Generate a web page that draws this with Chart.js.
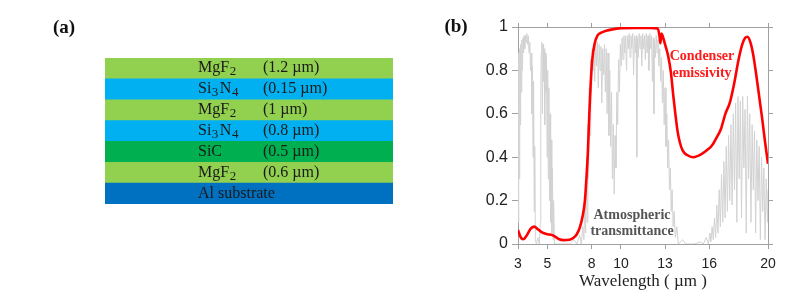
<!DOCTYPE html>
<html><head><meta charset="utf-8">
<script src="https://cdn.jsdelivr.net/npm/chart.js@4.4.1/dist/chart.umd.min.js"></script>
<style>
html,body{margin:0;padding:0;background:#fff;}
#wrap{position:relative;width:800px;height:297px;overflow:hidden;background:#fff;}
#ca{position:absolute;left:0;top:0;width:440px;height:297px;}
#cb{position:absolute;left:440px;top:0;width:360px;height:297px;}
.lbl{position:absolute;font-family:"Liberation Serif","Times New Roman",serif;font-weight:bold;white-space:nowrap;text-align:center;}
</style></head><body>
<div id="wrap">
<canvas id="ca" width="440" height="297"></canvas>
<canvas id="cb" width="360" height="297"></canvas>
<div class="lbl" style="left:40px;top:16px;width:48px;font-size:19px;color:#111;">(a)</div>
<div class="lbl" style="left:432px;top:15px;width:48px;font-size:19px;color:#111;">(b)</div>
<div class="lbl" style="left:642px;top:47px;width:120px;font-size:14px;line-height:17px;color:#ff1a1a;">Condenser<br>emissivity</div>
<div class="lbl" style="left:572px;top:207px;width:120px;font-size:14px;line-height:16px;color:#555;">Atmospheric<br>transmittance</div>
</div>
<script>
// ---------- Panel (a): layer stack ----------
const layerMaterials = ['MgF2','Si3N4','MgF2','Si3N4','SiC','MgF2','Al substrate'];
const layerThickness = ['(1.2 µm)','(0.15 µm)','(1 µm)','(0.8 µm)','(0.5 µm)','(0.6 µm)',''];
const layerColors = ['#92D050','#00B0F0','#92D050','#00B0F0','#00B050','#92D050','#0070C0'];

// ---------- Panel (b): spectra ----------
const xTickValues = [3,5,8,10,13,16,20];
const emisWavelength = [3.0,3.15,3.35,3.6,3.85,4.1,4.35,4.6,5.0,5.3,5.5,5.8,6.1,6.5,6.8,7.0,7.2,7.4,7.55,7.65,7.75,7.85,7.95,8.05,8.2,8.4,8.7,9.0,9.5,10.0,11.0,12.0,12.5,12.62,12.68,12.76,12.85,13.0,13.2,13.4,13.55,13.7,13.85,14.0,14.2,14.5,14.9,15.2,15.5,15.9,16.2,16.5,16.8,17.1,17.4,17.7,18.0,18.25,18.45,18.6,18.8,19.0,19.2,19.4,19.6,19.8,20.0];
const emisValue = [0.065,0.035,0.022,0.04,0.07,0.08,0.068,0.055,0.045,0.042,0.035,0.022,0.018,0.02,0.03,0.045,0.075,0.13,0.2,0.3,0.42,0.6,0.75,0.85,0.92,0.96,0.975,0.983,0.99,0.995,0.996,0.996,0.993,0.96,0.925,0.97,0.955,0.92,0.87,0.79,0.69,0.6,0.52,0.47,0.43,0.41,0.40,0.405,0.415,0.435,0.455,0.49,0.53,0.6,0.65,0.74,0.85,0.92,0.95,0.955,0.93,0.87,0.78,0.68,0.58,0.47,0.37];

const atmWavelength = [3.00,3.03,3.06,3.09,3.12,3.15,3.18,3.22,3.26,3.30,3.34,3.38,3.42,3.46,3.50,3.55,3.60,3.65,3.70,3.75,3.80,3.85,3.90,3.94,3.98,4.02,4.06,4.10,4.14,4.18,4.25,4.35,4.45,4.52,4.55,4.58,4.62,4.66,4.70,4.74,4.78,4.82,4.86,4.90,4.94,4.98,5.02,5.06,5.10,5.14,5.18,5.22,5.26,5.30,5.34,5.38,5.42,5.48,5.60,6.50,6.80,7.00,7.20,7.30,7.40,7.48,7.55,7.60,7.66,7.70,7.75,7.80,7.85,7.90,7.95,8.00,8.05,8.10,8.16,8.22,8.28,8.34,8.40,8.46,8.52,8.58,8.64,8.70,8.76,8.82,8.88,8.94,9.00,9.06,9.12,9.18,9.24,9.30,9.36,9.42,9.48,9.54,9.60,9.66,9.72,9.78,9.84,9.90,9.96,10.02,10.08,10.14,10.20,10.26,10.32,10.38,10.44,10.50,10.56,10.62,10.68,10.74,10.80,10.86,10.92,10.98,11.04,11.08,11.12,11.18,11.24,11.30,11.36,11.42,11.48,11.54,11.60,11.66,11.72,11.78,11.84,11.90,11.96,12.02,12.08,12.14,12.20,12.24,12.28,12.34,12.40,12.46,12.52,12.58,12.64,12.70,12.76,12.82,12.88,12.94,13.00,13.06,13.12,13.18,13.24,13.30,13.36,13.42,13.48,13.55,13.62,13.70,13.80,13.90,14.20,14.40,15.00,15.40,15.60,15.80,15.95,16.05,16.12,16.20,16.28,16.36,16.44,16.52,16.60,16.68,16.76,16.84,16.92,17.00,17.08,17.16,17.24,17.32,17.40,17.48,17.56,17.64,17.72,17.80,17.88,17.96,18.04,18.12,18.20,18.28,18.36,18.44,18.52,18.60,18.68,18.76,18.84,18.92,19.00,19.08,19.16,19.24,19.32,19.40,19.48,19.56,19.64,19.72,19.80,19.88,19.96,20.00];
const atmValue = [0.84,0.10,0.88,0.30,0.90,0.55,0.92,0.70,0.94,0.80,0.95,0.88,0.96,0.90,0.96,0.93,0.97,0.92,0.96,0.88,0.93,0.80,0.88,0.60,0.82,0.40,0.75,0.15,0.45,0.02,0.00,0.03,0.00,0.10,0.70,0.88,0.93,0.60,0.92,0.75,0.90,0.55,0.88,0.70,0.86,0.40,0.80,0.30,0.72,0.20,0.60,0.10,0.48,0.05,0.35,0.02,0.20,0.00,0.00,0.00,0.02,0.00,0.04,0.00,0.08,0.02,0.20,0.05,0.40,0.10,0.55,0.30,0.72,0.50,0.85,0.70,0.90,0.80,0.92,0.75,0.93,0.82,0.93,0.72,0.92,0.80,0.91,0.65,0.90,0.78,0.92,0.70,0.90,0.60,0.88,0.50,0.80,0.45,0.70,0.30,0.55,0.23,0.50,0.35,0.70,0.55,0.85,0.70,0.92,0.82,0.95,0.85,0.96,0.88,0.96,0.80,0.96,0.90,0.97,0.86,0.96,0.90,0.97,0.78,0.96,0.88,0.96,0.40,0.95,0.86,0.97,0.90,0.96,0.82,0.97,0.90,0.96,0.85,0.97,0.88,0.96,0.80,0.97,0.90,0.96,0.75,0.95,0.60,0.94,0.86,0.96,0.88,0.94,0.82,0.90,0.75,0.86,0.65,0.80,0.55,0.72,0.45,0.60,0.35,0.48,0.25,0.35,0.15,0.25,0.08,0.15,0.03,0.08,0.00,0.02,0.00,0.00,0.01,0.00,0.03,0.00,0.05,0.01,0.08,0.02,0.12,0.03,0.18,0.05,0.25,0.08,0.32,0.10,0.38,0.12,0.45,0.15,0.50,0.20,0.55,0.18,0.60,0.25,0.65,0.10,0.68,0.30,0.66,0.12,0.68,0.35,0.62,0.05,0.68,0.30,0.60,0.10,0.55,0.25,0.52,0.05,0.48,0.20,0.45,0.02,0.40,0.15,0.35,0.02,0.30,0.10,0.25];

// ---------- Panel (a) chart ----------
function drawChem(ctx, text, x, y){
  // digits following a letter are drawn as subscripts
  let cx = x;
  for (let i=0;i<text.length;i++){
    const ch = text[i];
    const isSub = /[0-9]/.test(ch) && i>0 && /[A-Za-z]/.test(text[i-1]);
    if (isSub){
      ctx.font = '13px "Liberation Serif", "Times New Roman", serif';
      ctx.fillText(ch, cx+0.5, y+3);
      cx += ctx.measureText(ch).width + 2;
    } else {
      ctx.font = '16px "Liberation Serif", "Times New Roman", serif';
      ctx.fillText(ch, cx, y);
      cx += ctx.measureText(ch).width;
    }
  }
}
const layerTextPlugin = {
  id:'layerText',
  afterDatasetsDraw(chart){
    const ctx = chart.ctx; const area = chart.chartArea;
    const meta = chart.getDatasetMeta(0);
    ctx.save();
    ctx.fillStyle = '#1a1a1a';
    ctx.textBaseline = 'alphabetic';
    ctx.textAlign = 'left';
    meta.data.forEach((bar,i)=>{
      const base = bar.y + 4;
      drawChem(ctx, layerMaterials[i], area.left + 93, base);
      ctx.font = '16px "Liberation Serif", "Times New Roman", serif';
      ctx.fillText(layerThickness[i], area.left + 158, base);
    });
    ctx.restore();
  }
};
new Chart(document.getElementById('ca'), {
  type:'bar',
  data:{
    labels: layerMaterials.map((m,i)=>m+' '+i),
    datasets:[{
      data: layerMaterials.map(()=>[0,1]),
      backgroundColor: layerColors,
      borderWidth:0,
      barPercentage:1.0,
      categoryPercentage:1.0
    }]
  },
  options:{
    indexAxis:'y',
    responsive:false,
    animation:false,
    layout:{padding:{left:105,right:47,top:58,bottom:93}},
    plugins:{legend:{display:false},tooltip:{enabled:false}},
    scales:{
      x:{display:false,min:0,max:1},
      y:{display:false}
    }
  },
  plugins:[layerTextPlugin]
});

// ---------- Panel (b) chart ----------
const frame = '#a0a0a0';
const xTickFont = {family:'"Liberation Sans", Arial, sans-serif', size:14};
const yTickFont = {family:'"Liberation Sans", Arial, sans-serif', size:16};
const setXTicks = s => { s.ticks = xTickValues.map(v=>({value:v})); };
new Chart(document.getElementById('cb'), {
  type:'line',
  data:{
    datasets:[
      {
        label:'Atmospheric transmittance',
        data: atmWavelength.map((w,i)=>({x:w,y:atmValue[i]})),
        borderColor:'#d2d2d2',
        borderWidth:1,
        pointRadius:0,
        tension:0,
        xAxisID:'x', yAxisID:'y',
        order:2
      },
      {
        label:'Condenser emissivity',
        data: emisWavelength.map((w,i)=>({x:w,y:emisValue[i]})),
        borderColor:'#ff0000',
        borderWidth:2.6,
        pointRadius:0,
        cubicInterpolationMode:'monotone',
        xAxisID:'x', yAxisID:'y',
        order:1
      }
    ]
  },
  options:{
    responsive:false,
    animation:false,
    layout:{padding:0},
    plugins:{legend:{display:false},tooltip:{enabled:false}},
    scales:{
      x:{
        type:'linear', position:'bottom', min:3, max:20,
        afterBuildTicks:setXTicks,
        ticks:{font:xTickFont, color:'#222', padding:7, maxRotation:0, autoSkip:false},
        grid:{drawOnChartArea:false, drawTicks:true, tickLength:5, color:frame},
        border:{display:true, color:frame, width:1},
        title:{display:true, text:'Wavelength ( µm )', color:'#222',
               font:{family:'"Liberation Serif", "Times New Roman", serif', size:17},
               padding:{top:0,bottom:5}},
        afterFit:s=>{s.height=53;}
      },
      x2:{
        type:'linear', position:'top', min:3, max:20,
        afterBuildTicks:setXTicks,
        ticks:{display:false},
        grid:{drawOnChartArea:false, drawTicks:true, tickLength:4, color:frame},
        border:{display:true, color:frame, width:1},
        afterFit:s=>{s.height=27;}
      },
      y:{
        type:'linear', position:'left', min:0, max:1,
        ticks:{stepSize:0.2, font:yTickFont, color:'#222', padding:4,
               callback:v=>String(Math.round(v*10)/10)},
        grid:{drawOnChartArea:false, drawTicks:true, tickLength:6, color:frame},
        border:{display:true, color:frame, width:1},
        afterFit:s=>{s.width=78;}
      },
      y2:{
        type:'linear', position:'right', min:0, max:1,
        ticks:{display:false, stepSize:0.2},
        grid:{drawOnChartArea:false, drawTicks:true, tickLength:5, color:frame},
        border:{display:true, color:frame, width:1},
        afterFit:s=>{s.width=32;}
      }
    }
  }
});
</script>
</body></html>
